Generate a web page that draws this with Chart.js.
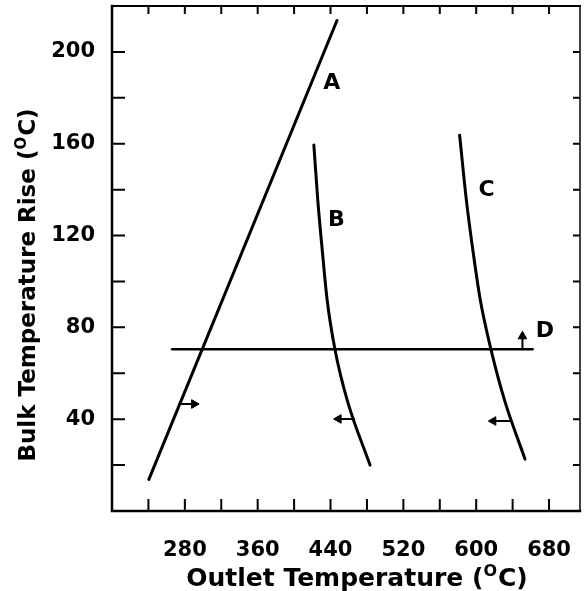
<!DOCTYPE html>
<html>
<head>
<meta charset="utf-8">
<script src="https://cdn.jsdelivr.net/npm/chart.js@4.4.0/dist/chart.umd.min.js"></script>
<style>
  html, body { margin: 0; padding: 0; background: #fff; }
  #wrap { width: 586px; height: 591px; }
</style>
</head>
<body>
<div id="wrap"><canvas id="chart"></canvas></div>
<script>
// axis ticks (every 40 on x, every 20 on y; only some are labelled)
const xTickValues = [240, 280, 320, 360, 400, 440, 480, 520, 560, 600, 640, 680];
const xTickLabels = [280, 360, 440, 520, 600, 680];
const yTickValues = [20, 40, 60, 80, 100, 120, 140, 160, 180, 200];
const yTickLabels = [40, 80, 120, 160, 200];

// curve A (straight)
const aX = [240.5, 447.1];
const aY = [13.8, 213.7];
// curve B
const bX = [421.7, 426.0, 430.9, 436.3, 445.0, 458.3, 483.4];
const bY = [159.4, 135.4, 113.7, 91.9, 70.1, 48.3, 20.0];
// curve C
const cX = [581.8, 589.2, 596.3, 604.5, 616.4, 631.1, 653.6];
const cY = [163.7, 135.4, 113.7, 91.9, 70.1, 48.3, 22.6];
// line D (horizontal)
const dX = [266, 662];
const dY = [70.5, 70.5];

// arrows: shaft start -> arrowhead centre, with head direction (degrees)
const arrowFromX = [273.9, 466.0, 638.0, 650.8];
const arrowFromY = [46.6, 40.1, 39.2, 70.5];
const arrowToX = [290.2, 448.9, 618.8, 650.8];
const arrowToY = [46.6, 40.1, 39.2, 76.1];
const arrowRotation = [90, -90, -90, 0];

// curve labels
const curveNames = ['A', 'B', 'C', 'D'];
const labelX = [441.5, 446.5, 611.5, 675.5];
const labelY = [186.5, 126.8, 139.7, 78.2];

const FONT = '"DejaVu Sans", sans-serif';

function toPoints(xs, ys) {
    return xs.map((x, i) => ({ x: x, y: ys[i] }));
}

function curve(xs, ys, width, smooth) {
    return {
        data: toPoints(xs, ys),
        showLine: true,
        borderColor: '#000',
        borderWidth: width,
        pointRadius: 0,
        cubicInterpolationMode: smooth ? 'monotone' : 'default',
        tension: 0,
        borderCapStyle: 'round'
    };
}

const datasets = [
    curve(aX, aY, 3, false),
    curve(bX, bY, 3, true),
    curve(cX, cY, 3, true),
    curve(dX, dY, 2.5, false)
];

arrowFromX.forEach((x, i) => {
    datasets.push(curve([x, arrowToX[i]], [arrowFromY[i], arrowToY[i]], 2, false));
});

datasets.push({
    data: toPoints(arrowToX, arrowToY),
    showLine: false,
    pointStyle: 'triangle',
    pointRadius: 5,
    rotation: arrowRotation,
    backgroundColor: '#000',
    borderColor: '#000',
    borderWidth: 1
});

// frame with inward ticks on all four sides
const framePlugin = {
    id: 'frame',
    afterDatasetsDraw(chart) {
        const ctx = chart.ctx;
        const a = chart.chartArea;
        const xs = chart.scales.x;
        const ys = chart.scales.y;
        ctx.save();
        ctx.strokeStyle = '#000';
        ctx.lineCap = 'square';

        ctx.lineWidth = 2.5;
        ctx.beginPath();
        ctx.moveTo(a.left, a.top);
        ctx.lineTo(a.left, a.bottom);
        ctx.lineTo(a.right, a.bottom);
        ctx.stroke();

        ctx.lineWidth = 2;
        ctx.beginPath();
        ctx.moveTo(a.left, a.top);
        ctx.lineTo(a.right, a.top);
        ctx.stroke();

        ctx.lineWidth = 1.5;
        ctx.beginPath();
        ctx.moveTo(a.right, a.top);
        ctx.lineTo(a.right, a.bottom);
        ctx.stroke();

        ctx.lineWidth = 2;
        ctx.lineCap = 'butt';
        ctx.beginPath();
        xTickValues.forEach(v => {
            const px = xs.getPixelForValue(v);
            ctx.moveTo(px, a.bottom);
            ctx.lineTo(px, a.bottom - 12);
            ctx.moveTo(px, a.top);
            ctx.lineTo(px, a.top + 8);
        });
        yTickValues.forEach(v => {
            const py = ys.getPixelForValue(v);
            ctx.moveTo(a.left, py);
            ctx.lineTo(a.left + 13, py);
            ctx.moveTo(a.right, py);
            ctx.lineTo(a.right - 7, py);
        });
        ctx.stroke();

        // curve letters
        ctx.fillStyle = '#000';
        ctx.font = 'bold 22px ' + FONT;
        ctx.textAlign = 'center';
        ctx.textBaseline = 'middle';
        curveNames.forEach((n, i) => {
            ctx.fillText(n, xs.getPixelForValue(labelX[i]), ys.getPixelForValue(labelY[i]));
        });
        ctx.restore();
    }
};

// axis titles with a superscript O
function drawTitle(ctx, size, pre, sup, post, cx, baseline) {
    const big = 'bold ' + size + 'px ' + FONT;
    const small = 'bold ' + Math.round(size * 0.65) + 'px ' + FONT;
    ctx.font = big;
    const w1 = ctx.measureText(pre).width;
    const w3 = ctx.measureText(post).width;
    ctx.font = small;
    const w2 = ctx.measureText(sup).width + 1;
    let x = cx - (w1 + w2 + w3) / 2;
    ctx.textAlign = 'left';
    ctx.textBaseline = 'alphabetic';
    ctx.font = big;
    ctx.fillText(pre, x, baseline);
    x += w1;
    ctx.font = small;
    ctx.fillText(sup, x, baseline - size * 0.4);
    x += w2;
    ctx.font = big;
    ctx.fillText(post, x, baseline);
}

const titlePlugin = {
    id: 'titles',
    afterDraw(chart) {
        const ctx = chart.ctx;
        ctx.save();
        ctx.fillStyle = '#000';
        drawTitle(ctx, 25, 'Outlet Temperature (', 'O', 'C)', 357, 586);
        ctx.translate(35, 285);
        ctx.rotate(-Math.PI / 2);
        drawTitle(ctx, 23, 'Bulk Temperature Rise (', 'O', 'C)', 0, 0);
        ctx.restore();
    }
};

new Chart(document.getElementById('chart'), {
    type: 'scatter',
    data: { datasets: datasets },
    plugins: [framePlugin, titlePlugin],
    options: {
        responsive: true,
        maintainAspectRatio: false,
        animation: false,
        layout: { padding: { top: 6, right: 1, left: 0, bottom: 0 } },
        plugins: {
            legend: { display: false },
            tooltip: { enabled: false }
        },
        scales: {
            x: {
                type: 'linear',
                min: 200,
                max: 714,
                afterBuildTicks: s => { s.ticks = xTickValues.map(v => ({ value: v })); },
                afterFit: s => { s.height = 80; s.paddingLeft = 0; s.paddingRight = 0; },
                grid: { display: false },
                border: { display: false },
                ticks: {
                    color: '#000',
                    font: { family: FONT, size: 21, weight: 'bold' },
                    padding: 19,
                    maxRotation: 0,
                    autoSkip: false,
                    callback: v => xTickLabels.includes(v) ? String(v) : ''
                }
            },
            y: {
                type: 'linear',
                min: 0,
                max: 220,
                afterBuildTicks: s => { s.ticks = yTickValues.map(v => ({ value: v })); },
                afterFit: s => { s.width = 112; s.paddingTop = 0; s.paddingBottom = 0; },
                grid: { display: false },
                border: { display: false },
                ticks: {
                    color: '#000',
                    font: { family: FONT, size: 21, weight: 'bold' },
                    padding: 9,
                    autoSkip: false,
                    callback: v => yTickLabels.includes(v) ? String(v) : ''
                }
            }
        }
    }
});
</script>
</body>
</html>
